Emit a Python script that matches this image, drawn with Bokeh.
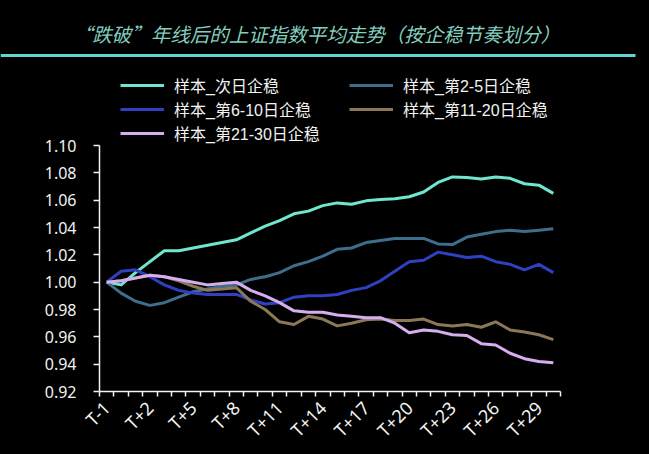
import math
from bokeh.plotting import figure
from bokeh.models import (Range1d, FixedTicker, Legend, LegendItem, Label,
                          PrintfTickFormatter, GlobalInlineStyleSheet)
from bokeh.layouts import column
from bokeh.embed import file_html
from bokeh.resources import INLINE

title_text = "“跌破”年线后的上证指数平均走势（按企稳节奏划分）"

days = ["T-1", "T", "T+1", "T+2", "T+3", "T+4", "T+5", "T+6", "T+7", "T+8",
        "T+9", "T+10", "T+11", "T+12", "T+13", "T+14", "T+15", "T+16", "T+17",
        "T+18", "T+19", "T+20", "T+21", "T+22", "T+23", "T+24", "T+25", "T+26",
        "T+27", "T+28", "T+29", "T+30"]
label_every = 3

series_names = ["样本_次日企稳", "样本_第2-5日企稳", "样本_第6-10日企稳",
                "样本_第11-20日企稳", "样本_第21-30日企稳"]

s_next = [1.000, 0.998, 1.007, 1.015, 1.023, 1.023, 1.025, 1.027, 1.029, 1.031,
          1.036, 1.041, 1.045, 1.050, 1.052, 1.056, 1.058, 1.057, 1.0595, 1.0605,
          1.061, 1.0625, 1.066, 1.073, 1.077, 1.0765, 1.0755, 1.077, 1.076, 1.072,
          1.071, 1.065]
s_2_5 = [1.000, 0.992, 0.986, 0.983, 0.985, 0.989, 0.993, 0.995, 0.997, 0.998,
         1.002, 1.004, 1.007, 1.012, 1.015, 1.019, 1.024, 1.025, 1.029, 1.0305,
         1.032, 1.032, 1.032, 1.028, 1.0275, 1.033, 1.035, 1.037, 1.038, 1.037,
         1.038, 1.039]
s_6_10 = [1.000, 1.008, 1.009, 1.004, 0.998, 0.994, 0.992, 0.991, 0.991, 0.991,
          0.987, 0.984, 0.985, 0.989, 0.990, 0.990, 0.991, 0.994, 0.996, 1.001,
          1.008, 1.015, 1.016, 1.022, 1.020, 1.018, 1.019, 1.015, 1.013, 1.009,
          1.013, 1.007]
s_11_20 = [1.000, 1.001, 1.003, 1.005, 1.004, 1.001, 0.997, 0.994, 0.995, 0.996,
           0.986, 0.980, 0.971, 0.969, 0.975, 0.973, 0.968, 0.970, 0.9725, 0.973,
           0.972, 0.972, 0.973, 0.969, 0.968, 0.969, 0.967, 0.971, 0.965, 0.9635,
           0.9615, 0.958]
s_21_30 = [1.000, 1.001, 1.003, 1.005, 1.004, 1.002, 1.000, 0.998, 0.999, 1.000,
           0.994, 0.990, 0.985, 0.979, 0.978, 0.978, 0.976, 0.975, 0.974, 0.974,
           0.970, 0.963, 0.965, 0.964, 0.9615, 0.961, 0.955, 0.954, 0.948, 0.944,
           0.942, 0.941]

y_ticks = [0.92, 0.94, 0.96, 0.98, 1.00, 1.02, 1.04, 1.06, 1.08, 1.10]

colors = ["#6fe6d0", "#3f6d8c", "#2f40c2", "#8b7858", "#d6aef0"]
all_series = [s_next, s_2_5, s_6_10, s_11_20, s_21_30]

WHITE = "#f2f2f2"
TICK_FONT = "Noto Sans"
LEG_FONT = "'Liberation Sans', 'Noto Sans CJK SC'"
CJK_FONT = "Noto Sans CJK SC"

W = 649
HEAD_H = 62
MAIN_H = 454 - HEAD_H

# ---------- header (title + rule) ----------
h = figure(width=W, height=HEAD_H, x_range=Range1d(0, W), y_range=Range1d(0, HEAD_H),
           output_backend="svg", toolbar_location=None,
           x_axis_location=None, y_axis_location=None,
           background_fill_color="black", border_fill_color="black",
           outline_line_color=None, min_border=0, frame_align=False)
h.grid.visible = False
h.add_layout(Label(x=316, y=HEAD_H - 33, text=title_text, text_align="center",
                   text_baseline="middle", text_color="#82cebf",
                   text_font=CJK_FONT, text_font_size="19.5px",
                   text_font_style="italic"))
h.segment(x0=[0], y0=[HEAD_H - 55], x1=[635], y1=[HEAD_H - 55],
          line_color="#63d2d2", line_width=3)

# ---------- main chart ----------
x_idx = list(range(len(days)))
px_per_unit = 246 / 0.18
frame_top_px, frame_bot_px = 62, 391
y_top = 0.92 + (frame_bot_px - frame_top_px) / px_per_unit

p = figure(width=W, height=MAIN_H,
           x_range=Range1d(-0.5, len(days) - 0.5),
           y_range=Range1d(0.92, y_top),
           output_backend="svg", toolbar_location=None,
           background_fill_color="black", border_fill_color="black",
           outline_line_color=None, frame_align=False,
           min_border_left=99, min_border_right=W - 560,
           min_border_top=0, min_border_bottom=454 - frame_bot_px)
p.grid.visible = False

renderers = []
for ys, col in zip(all_series, colors):
    r = p.line(x_idx, ys, line_color=col, line_width=3, line_join="round")
    renderers.append(r)

# y axis
ya = p.yaxis[0]
ya.ticker = FixedTicker(ticks=y_ticks, minor_ticks=[])
ya.bounds = (y_ticks[0], y_ticks[-1])
ya.formatter = PrintfTickFormatter(format="%.2f")
ya.axis_line_color = WHITE
ya.axis_line_width = 1.5
ya.major_tick_line_color = WHITE
ya.major_tick_line_width = 1.5
ya.major_tick_out = 6
ya.major_tick_in = 0
ya.minor_tick_line_color = None
ya.major_label_text_color = WHITE
ya.major_label_text_font = TICK_FONT
ya.major_label_text_font_size = "16px"
ya.major_label_standoff = 17

# x axis
xa = p.xaxis[0]
label_pos = x_idx[::label_every]
xa.ticker = FixedTicker(ticks=label_pos,
                        minor_ticks=[i - 0.5 for i in range(len(days) + 1)])
xa.major_label_overrides = {i: days[i] for i in label_pos}
xa.major_label_orientation = math.pi / 4
xa.axis_line_color = WHITE
xa.axis_line_width = 1.5
xa.major_tick_line_color = None
xa.major_tick_out = 0
xa.major_tick_in = 0
xa.minor_tick_line_color = WHITE
xa.minor_tick_line_width = 1.5
xa.minor_tick_out = 5
xa.minor_tick_in = 0
xa.major_label_text_color = WHITE
xa.major_label_text_font = TICK_FONT
xa.major_label_text_font_size = "18px"
xa.major_label_standoff = 8

items = [LegendItem(label=n, renderers=[r]) for n, r in zip(series_names, renderers)]
legend = Legend(items=items, location=(21, 246), orientation="horizontal", ncols=2,
                background_fill_alpha=0, border_line_alpha=0,
                padding=0, margin=0, spacing=0,
                glyph_width=44, glyph_height=22, label_height=22, label_width=175,
                label_standoff=10,
                label_text_color=WHITE, label_text_font=LEG_FONT,
                label_text_font_size="16px")
p.add_layout(legend)

layout = column(h, p, spacing=0, styles={"background-color": "black"})
layout.stylesheets = [GlobalInlineStyleSheet(css="html, body { background-color: #000000; }")]
open("out.html", "w").write(file_html(layout, INLINE))
